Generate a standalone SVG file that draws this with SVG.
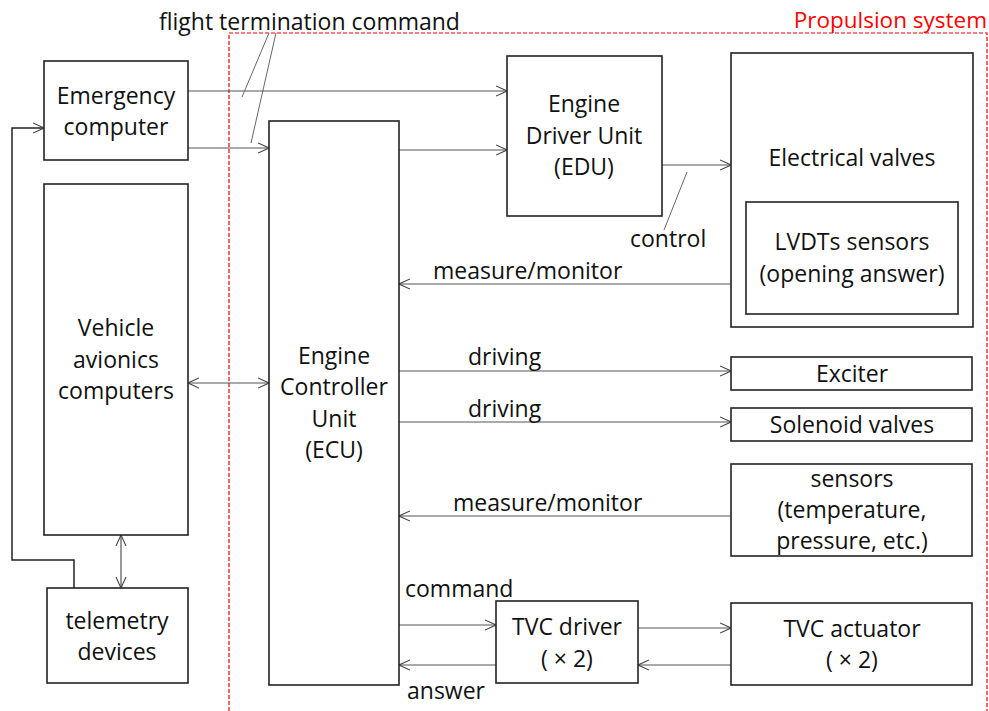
<svg xmlns="http://www.w3.org/2000/svg" width="989" height="711" viewBox="0 0 989 711">
<style>
.box{fill:#fff;stroke:#222;stroke-width:1.6}
.t{font-family:"Open Sans","Liberation Sans",sans-serif;font-size:23px;fill:#111;text-anchor:middle}
.l{font-family:"Open Sans","Liberation Sans",sans-serif;font-size:23px;fill:#111}
.c{fill:none;stroke:#555;stroke-width:1.2}
.p{fill:none;stroke:#666;stroke-width:1}
</style>
<defs>
<marker id="a" viewBox="0 0 12 12" refX="11" refY="6" markerWidth="12" markerHeight="12" markerUnits="userSpaceOnUse" orient="auto-start-reverse">
<path d="M0,1 L11,6 L0,11" fill="none" stroke="#444" stroke-width="1.1"/>
</marker>
</defs>
<rect width="989" height="711" fill="#fff"/>
<g id="propulsion-system">
<path d="M229,711 L229,33 L987,33 L987,711" fill="none" stroke="#e00" stroke-width="1.2" stroke-dasharray="4,2"/>
<text x="987" y="28" font-family="'Open Sans','Liberation Sans',sans-serif" font-size="22.5" fill="#f00" text-anchor="end">Propulsion system</text>
</g>
<g id="connectors">
<path class="c" d="M188,91 L507,91" marker-end="url(#a)"/>
<path class="c" d="M188,148 L269,148" marker-end="url(#a)"/>
<path class="c" d="M399,150 L507,150" marker-end="url(#a)"/>
<path class="c" d="M662,165 L731,165" marker-end="url(#a)"/>
<path class="c" d="M746,284 L399,284" marker-end="url(#a)"/>
<path class="c" d="M399,371 L731,371" marker-end="url(#a)"/>
<path class="c" d="M399,422 L731,422" marker-end="url(#a)"/>
<path class="c" d="M731,516 L399,516" marker-end="url(#a)"/>
<path class="c" d="M399,625 L496,625" marker-end="url(#a)"/>
<path class="c" d="M496,665 L399,665" marker-end="url(#a)"/>
<path class="c" d="M638,628 L731,628" marker-end="url(#a)"/>
<path class="c" d="M731,665 L638,665" marker-end="url(#a)"/>
<path class="c" d="M188,383 L269,383" marker-start="url(#a)" marker-end="url(#a)"/>
<path class="c" d="M121,535 L121,588" marker-start="url(#a)" marker-end="url(#a)"/>
<path d="M74,588 L74,560 L12,560 L12,128 L44,128" fill="none" stroke="#222" stroke-width="1.5" marker-end="url(#a)"/>
<path class="p" d="M269,33 L242,97 M276,33 L251,143"/>
<path class="p" d="M687,172 L664,230"/>
<text class="l" x="159" y="30">flight termination command</text>
<text class="l" x="630" y="247">control</text>
<text class="l" x="433" y="279">measure/monitor</text>
<text class="l" x="468" y="365">driving</text>
<text class="l" x="468" y="417">driving</text>
<text class="l" x="453" y="511">measure/monitor</text>
<text class="l" x="405" y="597">command</text>
<text class="l" x="407" y="699">answer</text>
</g>
<g id="emergency-computer">
<rect class="box" x="44" y="61" width="144" height="99"/>
<text class="t" x="116" y="104">Emergency</text>
<text class="t" x="116" y="135">computer</text>
</g>
<g id="vehicle-avionics">
<rect class="box" x="44" y="184" width="144" height="351"/>
<text class="t" x="116" y="336">Vehicle</text>
<text class="t" x="116" y="368">avionics</text>
<text class="t" x="116" y="399">computers</text>
</g>
<g id="telemetry">
<rect class="box" x="47" y="588" width="141" height="95"/>
<text class="t" x="117" y="629">telemetry</text>
<text class="t" x="117" y="660">devices</text>
</g>
<g id="ecu">
<rect class="box" x="269" y="121" width="130" height="564"/>
<text class="t" x="334" y="364">Engine</text>
<text class="t" x="334" y="395">Controller</text>
<text class="t" x="334" y="427">Unit</text>
<text class="t" x="334" y="458">(ECU)</text>
</g>
<g id="edu">
<rect class="box" x="507" y="56" width="155" height="160"/>
<text class="t" x="584" y="112">Engine</text>
<text class="t" x="584" y="144">Driver Unit</text>
<text class="t" x="584" y="175">(EDU)</text>
</g>
<g id="electrical-valves">
<rect class="box" x="731" y="53" width="242" height="274"/>
<text class="t" x="852" y="166">Electrical valves</text>
</g>
<g id="lvdt">
<rect class="box" x="746" y="202" width="212" height="112"/>
<text class="t" x="852" y="250">LVDTs sensors</text>
<text class="t" x="852" y="282">(opening answer)</text>
</g>
<g id="exciter">
<rect class="box" x="731" y="357" width="241" height="33"/>
<text class="t" x="852" y="382">Exciter</text>
</g>
<g id="solenoid-valves">
<rect class="box" x="731" y="408" width="241" height="33"/>
<text class="t" x="852" y="433">Solenoid valves</text>
</g>
<g id="sensors">
<rect class="box" x="731" y="464" width="241" height="92"/>
<text class="t" x="852" y="487">sensors</text>
<text class="t" x="852" y="518">(temperature,</text>
<text class="t" x="852" y="549">pressure, etc.)</text>
</g>
<g id="tvc-driver">
<rect class="box" x="496" y="601" width="142" height="82"/>
<text class="t" x="567" y="635">TVC driver</text>
<text class="t" x="567" y="667">( × 2)</text>
</g>
<g id="tvc-actuator">
<rect class="box" x="731" y="603" width="241" height="82"/>
<text class="t" x="852" y="637">TVC actuator</text>
<text class="t" x="852" y="668">( × 2)</text>
</g>
</svg>
